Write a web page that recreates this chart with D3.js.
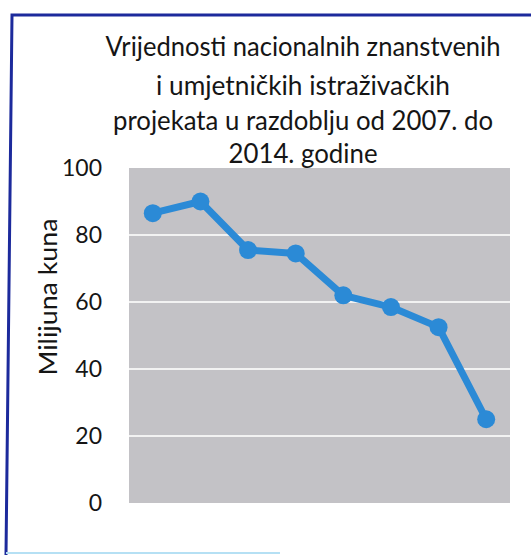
<!DOCTYPE html>
<html>
<head>
<meta charset="utf-8">
<script src="https://cdn.jsdelivr.net/npm/d3@7"></script>
<style>
  html, body { margin: 0; padding: 0; background: #ffffff; }
  svg { display: block; }
  text { font-family: Lato, "Open Sans", "DejaVu Sans", sans-serif; fill: #151515; }
</style>
</head>
<body>
<svg id="chart" width="531" height="555"></svg>
<script>
// ---- data ----
const years = ["2007", "2008", "2009", "2010", "2011", "2012", "2013", "2014"];
const values = [86.5, 90, 75.5, 74.5, 62, 58.5, 52.5, 25];
const yTicks = [0, 20, 40, 60, 80, 100];
const titleLines = [
  "Vrijednosti nacionalnih znanstvenih",
  "i umjetničkih istraživačkih",
  "projekata u razdoblju od 2007. do",
  "2014. godine"
];
const yLabel = "Milijuna kuna";

// ---- layout ----
const W = 531, H = 555;
const plot = { left: 129, right: 510, top: 168, bottom: 503 };
const svg = d3.select("#chart");

// outer frame (scanned border)
svg.append("path")
  .attr("d", "M531,15 L12,15 L6,555")
  .attr("fill", "none").attr("stroke", "#1c2a9c").attr("stroke-width", 3);
svg.append("line")
  .attr("x1", 6).attr("x2", 280).attr("y1", 553).attr("y2", 553)
  .attr("stroke", "#b5e0f4").attr("stroke-width", 2);

// scales
const x = d3.scaleBand().domain(years).range([plot.left, plot.right]);
const y = d3.scaleLinear().domain([0, 100]).range([plot.bottom, plot.top]);

// plot background
svg.append("rect")
  .attr("x", plot.left).attr("y", y(100))
  .attr("width", plot.right - plot.left).attr("height", y(0) - y(100))
  .attr("fill", "#c3c2c6");

// gridlines
svg.append("g").selectAll("line")
  .data(yTicks.filter(d => d > 0 && d < 100))
  .join("line")
  .attr("x1", plot.left).attr("x2", plot.right)
  .attr("y1", d => y(d)).attr("y2", d => y(d))
  .attr("stroke", "#f2f2f2").attr("stroke-width", 2);

// y axis
const yAxis = svg.append("g")
  .attr("transform", `translate(${plot.left - 27},0)`)
  .call(d3.axisLeft(y).tickValues(yTicks).tickSize(0).tickPadding(0));
yAxis.select(".domain").remove();
yAxis.selectAll("text")
  .style("font-family", "Lato, 'Open Sans', sans-serif")
  .style("font-size", "23px")
  .attr("fill", "#151515");

// y label
svg.append("text")
  .attr("transform", `translate(57,297) rotate(-90)`)
  .attr("text-anchor", "middle")
  .attr("textLength", 157)
  .attr("lengthAdjust", "spacingAndGlyphs")
  .style("font-size", "25px")
  .text(yLabel);

// title
const baselines = [56, 95, 130, 163];
const widths = [395, 294, 380, 149];
svg.append("g").selectAll("text").data(titleLines).join("text")
  .attr("x", 303)
  .attr("y", (d, i) => baselines[i])
  .attr("text-anchor", "middle")
  .attr("textLength", (d, i) => widths[i])
  .attr("lengthAdjust", "spacingAndGlyphs")
  .style("font-size", "26px")
  .text(d => d);

// line
const line = d3.line()
  .x((d, i) => x(years[i]) + x.bandwidth() / 2)
  .y(d => y(d));
svg.append("path")
  .datum(values)
  .attr("d", line)
  .attr("fill", "none")
  .attr("stroke", "#2b8ad6")
  .attr("stroke-width", 7)
  .attr("stroke-linejoin", "round");

svg.append("g").selectAll("circle")
  .data(values)
  .join("circle")
  .attr("cx", (d, i) => x(years[i]) + x.bandwidth() / 2)
  .attr("cy", d => y(d))
  .attr("r", 9)
  .attr("fill", "#2b8ad6");
</script>
</body>
</html>
